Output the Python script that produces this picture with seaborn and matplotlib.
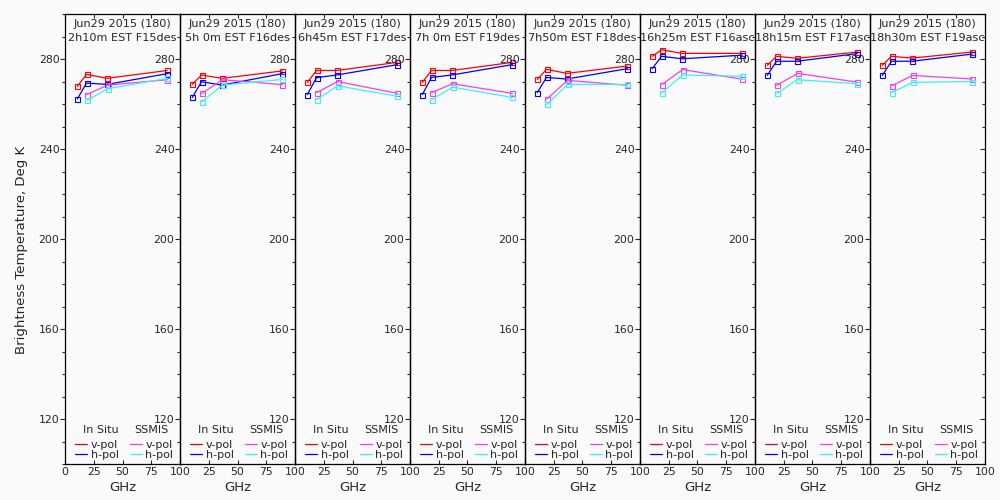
import numpy as np
import pandas as pd
import matplotlib
matplotlib.use("Agg")
import matplotlib.pyplot as plt
from matplotlib.lines import Line2D
from matplotlib.ticker import MultipleLocator
import seaborn as sns

sns.set_style("white")
plt.rcParams['font.family'] = ['DejaVu Sans']

# Donnees
date_label = "Jun29 2015 (180)"
pass_labels = ["2h10m EST F15des", "5h 0m EST F16des", "6h45m EST F17des",
               "7h 0m EST F19des", "7h50m EST F18des", "16h25m EST F16asc",
               "18h15m EST F17asc", "18h30m EST F19asc"]

insitu_ghz = [10.7, 18.7, 36.5, 89.0]
ssmis_ghz = [19.0, 37.0, 89.0]

insitu_v = [
    [267.8, 273.2, 271.4, 274.9],
    [268.7, 272.9, 271.4, 274.7],
    [269.6, 274.9, 274.9, 278.5],
    [269.6, 274.9, 274.9, 278.5],
    [270.9, 275.4, 273.6, 276.9],
    [281.2, 284.1, 282.5, 282.5],
    [277.2, 281.2, 280.3, 283.1],
    [277.2, 281.2, 280.4, 283.1],
]
insitu_h = [
    [262.2, 269.3, 268.7, 273.5],
    [262.9, 269.9, 268.4, 273.5],
    [264.2, 271.7, 272.9, 277.5],
    [264.2, 271.8, 272.9, 277.5],
    [265.1, 271.8, 271.1, 275.7],
    [275.7, 281.2, 280.1, 281.7],
    [272.7, 279.0, 279.0, 282.4],
    [272.7, 279.0, 279.0, 282.2],
]
ssmis_v = [
    [264.2, 268.4, 270.8],
    [264.7, 270.8, 268.6],
    [265.1, 270.0, 264.7],
    [265.1, 269.0, 264.7],
    [262.2, 270.5, 268.3],
    [268.6, 275.3, 271.0],
    [268.3, 273.6, 269.7],
    [268.1, 272.7, 271.1],
]
ssmis_h = [
    [261.6, 266.8, 271.4],
    [261.1, 268.4, 270.9],
    [262.0, 268.1, 263.4],
    [262.0, 267.5, 262.9],
    [259.8, 268.7, 268.7],
    [265.0, 272.9, 272.3],
    [264.7, 270.8, 269.0],
    [265.1, 269.6, 270.0],
]

x_ticks = [0, 25, 50, 75, 100]
y_ticks = [120, 160, 200, 240, 280]

colors = {"insitu_v": "#ff0000", "insitu_h": "#0000ff",
          "ssmis_v": "#f040f0", "ssmis_h": "#40f0f0"}

bg = "#fafafa"
fig, axes = plt.subplots(1, 8, figsize=(10, 5), dpi=100, facecolor=bg)
fig.subplots_adjust(left=0.065, right=0.985, top=0.972, bottom=0.072, wspace=0)

for i, ax in enumerate(axes):
    ax.patch.set_visible(False)
    series = [
        (insitu_ghz, insitu_v[i], colors["insitu_v"]),
        (insitu_ghz, insitu_h[i], colors["insitu_h"]),
        (ssmis_ghz, ssmis_v[i], colors["ssmis_v"]),
        (ssmis_ghz, ssmis_h[i], colors["ssmis_h"]),
    ]
    for xs, ys, c in series:
        d = pd.DataFrame({"GHz": xs, "Tb": ys})
        sns.lineplot(data=d, x="GHz", y="Tb", color=c, lw=0.9, marker="s",
                     markersize=3.6, mfc="none", mec=c, mew=0.8, ax=ax,
                     estimator=None, sort=False)

    ax.set_xlim(0, 100)
    ax.set_ylim(100, 300)
    ax.set_xticks(x_ticks)
    ax.set_xticklabels([("" if (i > 0 and t == 0) else str(t)) for t in x_ticks])
    ax.set_yticks(y_ticks)
    ax.yaxis.set_minor_locator(MultipleLocator(10))
    ax.tick_params(axis="x", direction="in", top=True, bottom=True,
                   length=3, width=0.8, labelsize=7.8, pad=2)
    ax.tick_params(axis="y", which="major", direction="out", left=True,
                   right=(i == 7), length=3.5, width=0.8, labelsize=7.8, pad=0.5)
    ax.tick_params(axis="y", which="minor", direction="out", left=True,
                   right=(i == 7), length=2, width=0.8)
    if i == 7:
        ax.tick_params(axis="y", which="both", labelright=False)
        for t in ax.yaxis.get_major_ticks() + ax.yaxis.get_minor_ticks():
            t.tick2line.set_marker(matplotlib.lines.TICKLEFT)
    for s in ax.spines.values():
        s.set_color("black")
        s.set_linewidth(0.9)
    ax.set_xlabel("GHz", fontsize=9.5, labelpad=3)
    ax.set_ylabel("")

    ax.text(0.5, 0.977, date_label, transform=ax.transAxes, ha="center",
            va="center", fontsize=8.1)
    ax.text(0.5, 0.946, pass_labels[i], transform=ax.transAxes, ha="center",
            va="center", fontsize=8.1, clip_on=False)

    # legende
    ax.text(0.31, 0.076, "In Situ", transform=ax.transAxes, ha="center",
            va="center", fontsize=8)
    ax.text(0.75, 0.076, "SSMIS", transform=ax.transAxes, ha="center",
            va="center", fontsize=8)
    handles = [Line2D([], [], color=colors["insitu_v"], lw=0.9),
               Line2D([], [], color=colors["insitu_h"], lw=0.9),
               Line2D([], [], color=colors["ssmis_v"], lw=0.9),
               Line2D([], [], color=colors["ssmis_h"], lw=0.9)]
    ax.legend(handles, ["v-pol", "h-pol", "v-pol", "h-pol"], ncol=2,
              loc="lower left", bbox_to_anchor=(0.05, 0.0), frameon=False,
              fontsize=8, handlelength=1.1, handletextpad=0.3,
              columnspacing=1.0, labelspacing=0.0, borderpad=0.2,
              borderaxespad=0.2)

fig.text(0.022, 0.5, "Brightness Temperature, Deg K", rotation=90,
         ha="center", va="center", fontsize=9.5)

fig.savefig("out.png", dpi=100, facecolor=bg)
